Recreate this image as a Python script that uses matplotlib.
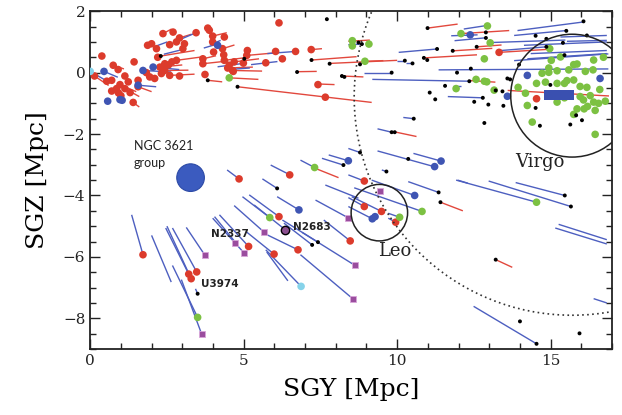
import matplotlib
matplotlib.use("Agg")
import matplotlib.pyplot as plt
from matplotlib.patches import Circle, Rectangle
from matplotlib.ticker import MultipleLocator

# ---------------- data (SGY, SGZ in Mpc) ----------------
red_dots = [(0.38,0.54),(0.75,0.24),(0.91,0.10),(0.14,-0.11),(0.54,-0.28),(0.70,-0.25),(0.97,-0.39),
            (1.13,-0.11),(1.24,-0.30),(0.86,-0.52),(0.92,-0.66),(1.13,-0.52),(1.43,0.35),(1.56,-0.25),
            (1.56,-0.46),(1.40,-0.97),(1.87,0.89),(2.0,0.94),(2.37,1.27),(2.70,1.32),(2.59,0.91),
            (2.16,0.78),(2.91,1.13),(2.81,1.0),(3.07,0.94),(3.45,1.30),(3.02,0.78),(2.81,0.40),(2.43,0.29),
            (2.66,0.35),(2.43,0.07),(2.27,0.18),(2.59,-0.09),(2.32,-0.03),(2.91,-0.11),(1.83,0.0),
            (1.94,-0.14),(2.10,-0.19),(3.83,1.45),(3.88,1.38),(3.99,1.19),(4.37,1.16),(3.99,1.0),(4.31,0.78),
            (4.02,0.67),(4.35,0.58),(3.67,0.45),(3.67,0.29),(3.74,-0.06),(4.37,0.40),(4.53,0.24),(4.48,0.15),
            (4.64,0.07),(4.69,0.35),(5.12,0.72),(5.10,0.56),(5.72,0.32),(6.04,0.69),(6.26,0.45),(6.15,1.62),
            (6.69,0.69),(7.20,0.75),(7.42,-0.39),(7.66,-0.80),(4.99,0.31),(4.66,0.04),(1.0,-0.75),(0.7,-0.6),
            (1.3,-0.65),(2.2,0.5),(2.55,0.25),(13.32,0.66),(14.54,-0.85),
            (4.85,-3.46),(6.5,-3.33),(6.15,-4.69),(5.16,-5.66),(6.77,-5.77),(5.99,-5.91),(8.47,-5.48),
            (1.72,-5.93),(3.47,-6.49),(3.21,-6.56),(3.29,-6.71),(8.93,-3.53),(8.93,-4.36),(9.49,-4.52),
            (9.95,-4.87)]

blue_dots = [(0.45,0.04),(0.97,-0.88),(1.04,-0.9),(0.57,-0.93),(1.72,0.07),(2.05,0.18),(1.56,-0.41),
             (4.15,0.89),(12.38,1.23),(14.24,-0.09),(16.61,-0.19),(13.59,-0.77),
             (11.22,-3.06),(11.43,-2.88),(8.41,-2.87),(10.57,-4.0),(6.8,-4.47),(9.19,-4.76),(9.28,-4.69)]

green_dots = [(4.53,-0.17),(8.54,1.04),(8.54,0.87),(9.08,0.93),(8.95,0.37),(12.94,1.52),(12.08,1.27),
              (13.03,0.97),(12.84,0.45),(14.97,0.78),(15.02,0.40),(15.32,0.51),(12.57,-0.22),(12.84,-0.28),
              (12.92,-0.30),(11.92,-0.52),(13.16,-0.57),
              (14.72,-0.02),(14.94,0.15),(14.94,0.01),(15.21,0.06),(15.59,0.09),(15.75,0.26),(15.86,0.28),
              (16.4,0.41),(16.72,0.5),(16.38,0.09),(16.13,0.04),(15.53,-0.26),(15.75,-0.24),(15.21,-0.35),
              (15.45,-0.35),(14.54,-0.35),(14.83,-0.31),(14.24,-1.07),(14.4,-1.61),(15.21,-0.96),
              (15.45,-0.82),(15.96,-0.45),(16.18,-0.48),(16.29,-0.75),(16.07,-0.89),(16.4,-0.96),
              (16.56,-1.0),(16.78,-0.93),(15.96,-0.78),(15.86,-1.18),(16.09,-1.18),(16.45,-1.23),
              (15.75,-1.36),(16.45,-2.01),(13.94,-0.48),(14.18,-0.67),(16.6,-0.55),(16.2,-1.1),
              (7.31,-3.09),(5.85,-4.72),(10.81,-4.52),(10.08,-4.71),(14.54,-4.22),(3.5,-7.97)]

cyan_dots = [(0.0,0.04),(6.87,-6.96)]

purple_squares = [(9.44,-3.87),(8.39,-4.72),(8.63,-6.28),(8.55,-7.36),(5.66,-5.19),(4.72,-5.55),
                  (5.02,-5.88),(3.74,-5.95),(3.63,-8.51)]

black_dots = [(2.3,0.54),(3.83,-0.25),(4.8,-0.46),(5.02,0.45),(6.74,0.02),(7.21,0.41),(7.8,0.29),
              (7.71,1.74),(8.2,-0.11),(8.28,-0.14),(10.99,1.45),(12.89,1.31),(12.89,1.13),(12.59,0.84),
              (11.81,0.71),(11.3,0.77),(10.87,0.48),(10.98,0.41),(10.25,0.39),(10.5,0.3),(8.74,0.98),
              (8.85,0.93),(8.79,0.27),(9.82,0.0),(12.35,-0.28),(11.95,0.0),(12.4,0.13),(11.56,-0.43),
              (11.06,-0.65),(11.24,-0.87),(12.51,-0.95),(12.79,-0.82),(12.84,-1.64),(10.54,-1.5),
              (9.82,-1.94),(9.92,-1.94),(16.07,1.67),(15.51,1.36),(14.51,1.2),(14.86,0.84),(15.45,0.57),
              (13.97,0.26),(13.59,-0.19),(13.68,-0.22),(13.21,-0.58),(13.43,-0.61),(12.97,-1.04),
              (13.46,-1.08),(14.51,-1.15),(14.99,-0.4),(14.65,-1.73),(15.64,-1.69),(15.83,-1.39),
              (16.02,-1.55),(16.18,1.21),(14.86,1.1),(15.4,0.97),
              (6.09,-3.77),(8.25,-3.01),(8.79,-2.6),(10.36,-2.81),(9.65,-3.22),(11.35,-3.9),(11.41,-4.22),
              (7.23,-5.61),(7.42,-5.52),(3.5,-7.2),(15.46,-4.0),(15.66,-4.36),(13.21,-6.09),(14.0,-8.1),
              (15.94,-8.49),(14.54,-8.83)]

red_segments = [(2.3,0.54,3.4,0.72),(2.81,0.40,3.7,0.52),(3.67,0.29,4.5,0.38),(2.43,0.07,3.2,0.08),
                (2.59,-0.09,3.4,-0.05),(2.27,0.18,3.0,0.25),(0.14,-0.11,0.6,-0.42),(0.97,-0.39,1.5,-0.62),
                (1.13,-0.52,1.6,-0.78),(1.40,-0.97,1.6,-1.12),(1.56,-0.46,2.0,-0.62),(0.75,0.24,1.1,0.12),
                (2.37,1.27,2.65,1.42),(2.91,1.13,3.3,1.25),(3.99,1.19,4.45,1.3),(4.31,0.78,4.7,0.9),
                (3.67,0.45,4.1,0.55),(4.37,0.40,5.0,0.48),(4.48,0.15,5.3,0.18),(4.64,0.07,5.6,0.05),
                (4.69,0.35,5.5,0.45),(5.10,0.56,6.1,0.65),(4.53,-0.17,5.48,-0.22),(3.83,-0.25,4.3,-0.30),
                (4.8,-0.46,9.17,-0.97),(6.74,0.03,7.38,0.04),(7.21,0.41,8.68,0.52),(7.2,0.75,7.55,0.78),
                (7.42,-0.37,7.96,-0.39),(7.8,0.3,10.0,0.4),(8.2,-0.11,8.9,-0.14),(8.41,1.02,9.11,1.06),
                (8.95,0.37,9.55,0.39),(10.99,1.45,11.97,1.58),(12.08,1.27,13.65,1.37),(10.89,0.48,12.6,0.58),
                (13.32,0.66,14.95,0.76),(11.81,0.71,13.1,0.79),(12.59,0.84,13.4,0.9),(12.4,-0.26,13.2,-0.31),
                (13.6,-0.58,16.9,-0.76),(9.92,-1.93,10.63,-2.08),
                (7.39,-3.14,8.09,-3.42),(11.41,-4.22,12.14,-4.5),(13.21,-6.09,13.75,-6.34)]

blue_segments = [(0.0,0.04,0.59,-0.30),(0.45,0.04,0.9,-0.15),(1.72,0.07,2.64,0.02),(2.05,0.18,2.9,0.10),
                 (1.56,-0.41,2.15,-0.46),(2.16,0.87,2.51,1.0),(2.4,0.6,3.0,0.75),(2.86,1.05,3.45,1.3),
                 (3.7,0.8,4.2,0.95),(3.9,0.9,4.25,1.05),(4.15,0.19,4.91,0.29),(4.5,0.1,5.2,0.15),
                 (5.24,0.26,6.1,0.36),(5.77,0.62,6.69,0.69),
                 (12.17,1.42,12.89,1.53),(11.76,1.2,12.62,1.23),(11.87,1.04,12.84,1.13),(10.05,0.66,11.3,0.77),
                 (8.41,0.91,8.9,0.93),(8.93,0.0,9.82,0.0),(9.19,-0.22,12.35,-0.28),(11.35,0.09,16.88,0.12),
                 (11.65,-0.78,12.78,-0.82),(10.2,-1.46,10.54,-1.5),(9.36,-1.83,9.82,-1.94),
                 (10.0,0.39,10.25,0.39),(10.3,0.3,10.5,0.3),(11.81,-0.42,12.08,-0.42),
                 (13.92,1.37,16.07,1.65),(13.81,1.21,15.51,1.37),(15.32,1.16,16.83,1.21),(15.53,1.02,16.83,1.05),
                 (14.13,0.89,16.83,1.0),(14.35,0.62,16.83,0.72),(14.24,0.45,16.83,0.62),(13.05,0.98,15.48,1.06),
                 (13.81,0.39,16.88,0.61),(13.27,0.71,14.86,0.84),
                 (4.46,-3.17,4.85,-3.46),(5.88,-3.01,6.47,-3.31),(5.61,-3.46,6.09,-3.77),(6.85,-2.85,7.31,-3.09),
                 (7.55,-2.79,8.25,-3.01),(7.77,-2.68,8.41,-2.87),(6.09,-4.04,6.8,-4.47),(5.18,-3.98,6.15,-4.69),
                 (4.96,-4.04,5.85,-4.72),(5.34,-4.31,6.36,-5.12),(4.69,-4.33,5.66,-5.19),(6.31,-4.9,7.23,-5.61),
                 (6.26,-4.8,7.42,-5.52),(4.21,-4.63,5.16,-5.66),(3.99,-4.74,5.02,-5.88),(4.05,-4.69,4.75,-5.55),
                 (5.72,-5.26,6.77,-5.77),(5.07,-5.17,5.99,-5.91),(6.9,-5.2,8.63,-6.28),(7.61,-4.8,8.47,-5.48),
                 (7.34,-4.15,8.39,-4.72),(3.13,-5.04,3.74,-5.95),(1.35,-4.63,1.72,-5.93),(2.68,-5.06,3.47,-6.49),
                 (2.46,-5.06,3.21,-6.56),(2.5,-5.0,3.29,-6.71),(2.0,-5.3,2.64,-6.82),(2.68,-6.28,3.5,-7.97),
                 (2.97,-6.74,3.63,-8.51),(3.43,-7.04,3.5,-7.2),(5.72,-5.77,6.87,-6.96),(5.75,-5.84,6.44,-6.78),
                 (6.85,-5.93,8.55,-7.36),(8.41,-2.47,8.79,-2.6),(9.36,-2.55,11.2,-3.06),(10.53,-2.63,11.43,-2.88),
                 (9.5,-3.17,9.65,-3.22),(8.41,-3.33,8.93,-3.53),(9.17,-3.5,10.57,-4.0),(10.36,-3.55,11.35,-3.9),
                 (8.6,-3.75,10.81,-4.52),(8.41,-4.07,8.93,-4.36),(8.52,-4.04,9.49,-4.52),(8.41,-4.36,9.19,-4.76),
                 (9.71,-4.58,10.08,-4.71),(9.71,-4.74,9.95,-4.87),(11.97,-3.5,12.3,-3.6),(11.92,-3.5,14.54,-4.22),
                 (13.86,-3.58,15.46,-4.0),(12.98,-3.53,15.66,-4.36),(12.49,-7.61,14.54,-8.83),
                 (15.26,-4.94,16.83,-5.44),(15.15,-5.06,16.83,-5.58),(16.4,-7.36,16.83,-7.5),
                 (7.66,-3.66,8.74,-4.09)]

n2683 = (6.36, -5.12)
ngc3621_group = (3.27, -3.42, 0.45)        # centre x, y, radius
virgo_box = (14.78, -0.89, 0.97, 0.34)     # x, y, width, height
virgo_circle = (15.7, -0.75, 2.0)
leo_circle = (9.42, -4.56, 0.92)
zero_vel_circle = (15.7, -0.8, 7.1)

labels = [("N2337", 3.94, -5.26), ("N2683", 6.62, -5.03), ("U3974", 3.61, -6.88)]

# ---------------- colours ----------------
RED = "#dc3b2c"
BLUE = "#3f55b3"
GREEN = "#7cc142"
PURPLE = "#9a4d9e"
CYAN = "#86d3ea"
LRED = "#e2483d"
LBLUE = "#4d5fc0"

fig = plt.figure(figsize=(6.22, 4.15), dpi=100)
ax = fig.add_axes([0.145, 0.159, 0.839, 0.814])
ax.set_xlim(0, 17)
ax.set_ylim(-9, 2)

for x0, y0, x1, y1 in red_segments:
    ax.plot([x0, x1], [y0, y1], color=LRED, lw=1.0, zorder=2, solid_capstyle="butt")
for x0, y0, x1, y1 in blue_segments:
    ax.plot([x0, x1], [y0, y1], color=LBLUE, lw=1.0, zorder=2, solid_capstyle="butt")

def sc(pts, **kw):
    ax.scatter([p[0] for p in pts], [p[1] for p in pts], **kw)

sc(red_dots, s=30, color=RED, edgecolors="none", zorder=3)
sc(blue_dots, s=30, color=BLUE, edgecolors="none", zorder=3)
sc(green_dots, s=30, color=GREEN, edgecolors="none", zorder=3)
sc(cyan_dots, s=30, color=CYAN, edgecolors="none", zorder=3)
sc(purple_squares, s=18, marker="s", color=PURPLE, edgecolors="#d9a6d9", linewidths=0.6, zorder=3)
sc(black_dots, s=8, color="black", edgecolors="none", zorder=4)
ax.scatter([n2683[0]], [n2683[1]], s=36, color="#8b4f8f", edgecolors="black", linewidths=1.0, zorder=4)

cx, cy, r = ngc3621_group
ax.add_patch(Circle((cx, cy), r, facecolor="#3b5bbf", edgecolor="#2c4aa6", lw=0.8, zorder=3))
bx, by, bw, bh = virgo_box
ax.add_patch(Rectangle((bx, by), bw, bh, facecolor="#3a50b0", edgecolor="none", zorder=4))
for (ccx, ccy, cr) in (virgo_circle, leo_circle):
    ax.add_patch(Circle((ccx, ccy), cr, facecolor="none", edgecolor="#222222", lw=1.1, zorder=5))
zx, zy, zr = zero_vel_circle
ax.add_patch(Circle((zx, zy), zr, facecolor="none", edgecolor="#333333", lw=1.2,
                    linestyle=(0, (1, 2)), zorder=5))

ax.text(1.42, -2.68, "NGC 3621\ngroup", family="Lato", fontsize=9, ha="left", va="center",
        linespacing=1.5, color="#222222")
for t, x, y in labels:
    ax.text(x, y, t, family="DejaVu Sans", fontweight="bold", fontsize=7.5, ha="left", va="center",
            color="#222222", zorder=6)
ax.text(14.66, -2.9, "Virgo", family="DejaVu Serif", fontsize=13, ha="center", va="center", color="#222222")
ax.text(9.92, -5.8, "Leo", family="DejaVu Serif", fontsize=13, ha="center", va="center", color="#222222")

ax.set_xlabel("SGY [Mpc]", family="DejaVu Serif", fontsize=18, labelpad=7)
ax.set_ylabel("SGZ [Mpc]", family="DejaVu Serif", fontsize=18, labelpad=10)

ax.xaxis.set_major_locator(MultipleLocator(5))
ax.xaxis.set_minor_locator(MultipleLocator(1))
ax.yaxis.set_major_locator(MultipleLocator(2))
ax.yaxis.set_minor_locator(MultipleLocator(0.5))
ax.tick_params(which="both", direction="in", top=True, right=True, width=1.0, colors="#222222")
ax.tick_params(which="major", length=7, labelsize=11)
ax.tick_params(which="minor", length=4)
for lab in ax.get_xticklabels() + ax.get_yticklabels():
    lab.set_family("DejaVu Serif")
for sp in ax.spines.values():
    sp.set_linewidth(1.3)
    sp.set_color("#222222")

fig.savefig("out.png", dpi=100)
